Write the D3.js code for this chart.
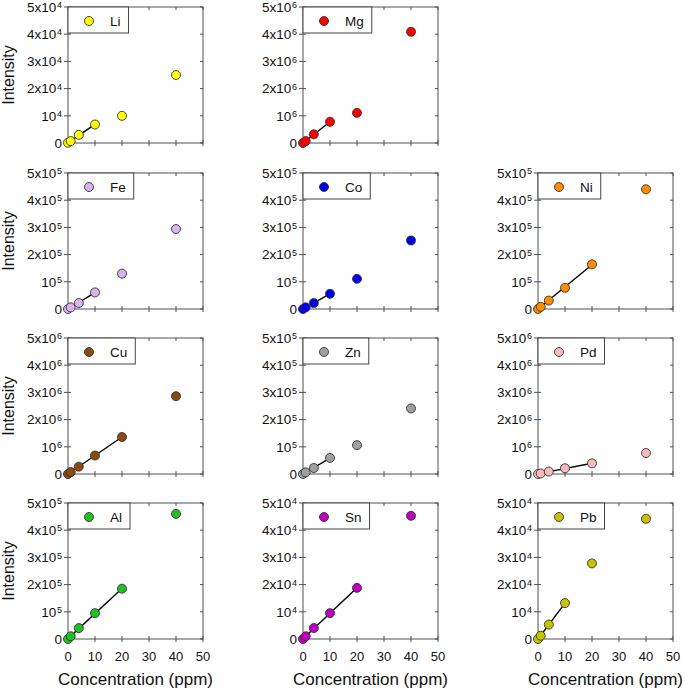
<!DOCTYPE html>
<html>
<head>
<meta charset="utf-8">
<script src="https://cdn.jsdelivr.net/npm/d3@7"></script>
<style>
  html, body { margin: 0; padding: 0; background: #fff; }
  svg { display: block; font-family: "Liberation Sans", Arial, sans-serif; }
</style>
</head>
<body>
<svg id="chart" width="685" height="690"></svg>
<script>
// ---------------- data ----------------
const elements = ["Li", "Mg", "Fe", "Co", "Ni", "Cu", "Zn", "Pd", "Al", "Sn", "Pb"];
const concentrations = [0, 1, 4, 10, 20, 40];
const xTicks = [0, 10, 20, 30, 40, 50];

const liValues = [100, 700, 3000, 6800, 10000, 25000];
const mgValues = [0, 70000, 320000, 780000, 1110000, 4090000];
const feValues = [0, 6000, 22000, 61000, 130000, 294000];
const coValues = [0, 6000, 22000, 56000, 111000, 252000];
const niValues = [0, 8000, 31000, 78000, 164000, 440000];
const cuValues = [0, 70000, 270000, 680000, 1360000, 2860000];
const znValues = [0, 6000, 22000, 59000, 106000, 241000];
const pdValues = [0, 20000, 90000, 210000, 390000, 770000];
const alValues = [0, 10000, 40000, 95000, 185000, 460000];
const snValues = [0, 1000, 4000, 9500, 18800, 45300];
const pbValues = [0, 1200, 5300, 13200, 27800, 44200];

const seriesValues = [liValues, mgValues, feValues, coValues, niValues, cuValues,
                      znValues, pdValues, alValues, snValues, pbValues];
// axis maximum (intensity) per element and x-extent of the linear fit
const yMaxima = [5e4, 5e6, 5e5, 5e5, 5e5, 5e6, 5e5, 5e6, 5e5, 5e4, 5e4];
const fitLimits = [10, 10, 10, 10, 20, 20, 10, 20, 20, 20, 10];
const colors = ["#ffff00", "#ff0000", "#d9b3ee", "#0000ee", "#ff8c00", "#8b4a10",
                "#a0a0a0", "#f6bcbc", "#22c022", "#c000c0", "#c8c200"];

// ---------------- layout ----------------
const slots = [[0,0],[0,1],[1,0],[1,1],[1,2],[2,0],[2,1],[2,2],[3,0],[3,1],[3,2]];
const colLeft = [68, 303, 538];
const rowTop = [7, 173, 338, 503];
const pw = 135, ph = 136;

const svg = d3.select("#chart");
const frameColor = "#505050";

function supLabel(sel, v) {
  sel.text(null);
  if (v === 0) { sel.append("tspan").text("0"); return; }
  const e = Math.floor(Math.log10(v) + 1e-9);
  const m = Math.round(v / Math.pow(10, e));
  sel.append("tspan").text(m === 1 ? "10" : m + "x10");
  sel.append("tspan").attr("dy", -3.6).attr("dx", 0.8).attr("font-size", 9).text(e);
}

elements.forEach((name, i) => {
  const [r, c] = slots[i];
  const x0 = colLeft[c], y0 = rowTop[r];
  const g = svg.append("g").attr("transform", `translate(${x0},${y0})`);

  const x = d3.scaleLinear().domain([0, 50]).range([0, pw]);
  const y = d3.scaleLinear().domain([0, yMaxima[i]]).range([ph, 0]);
  const yTicks = d3.range(0, 6).map(k => k * yMaxima[i] / 5);

  // frame
  g.append("rect").attr("x", 0).attr("y", 0).attr("width", pw).attr("height", ph)
    .attr("fill", "none").attr("stroke", frameColor).attr("stroke-width", 1);

  // left axis ticks (crossing)
  g.selectAll(".yl").data(yTicks).enter().append("line")
    .attr("x1", -4).attr("x2", 3)
    .attr("y1", d => y(d)).attr("y2", d => y(d))
    .attr("stroke", frameColor);
  // right ticks (inside)
  g.selectAll(".yr").data(yTicks).enter().append("line")
    .attr("x1", pw - 3).attr("x2", pw)
    .attr("y1", d => y(d)).attr("y2", d => y(d))
    .attr("stroke", frameColor);
  // bottom ticks
  g.selectAll(".xb").data(xTicks).enter().append("line")
    .attr("x1", d => x(d)).attr("x2", d => x(d))
    .attr("y1", ph - 3).attr("y2", ph + 3)
    .attr("stroke", frameColor);
  // top ticks
  g.selectAll(".xt").data(xTicks).enter().append("line")
    .attr("x1", d => x(d)).attr("x2", d => x(d))
    .attr("y1", 0).attr("y2", 3)
    .attr("stroke", frameColor);

  // y tick labels
  g.selectAll(".ylab").data(yTicks).enter().append("text")
    .attr("x", -6).attr("y", d => y(d) + 4.8)
    .attr("text-anchor", "end").attr("font-size", 13.5).attr("fill", "#111")
    .each(function(d) { supLabel(d3.select(this), d); });

  // x tick labels only on bottom row
  if (r === 3) {
    g.selectAll(".xlab").data(xTicks).enter().append("text")
      .attr("x", d => x(d)).attr("y", ph + 22)
      .attr("text-anchor", "middle").attr("font-size", 13).attr("fill", "#111")
      .text(d => d);
    g.append("text").attr("x", pw / 2).attr("y", ph + 46)
      .attr("text-anchor", "middle").attr("font-size", 17).attr("fill", "#111")
      .text("Concentration (ppm)");
  }
  if (c === 0) {
    g.append("text")
      .attr("transform", `translate(${14 - x0},${ph / 2}) rotate(-90)`)
      .attr("text-anchor", "middle").attr("font-size", 16).attr("fill", "#111")
      .text("Intensity");
  }

  // linear fit line (least squares over fit range)
  const vals = seriesValues[i];
  const pts = concentrations.map((cc, k) => [cc, vals[k]]).filter(p => p[0] <= fitLimits[i]);
  const mX = d3.mean(pts, p => p[0]);
  const mY = d3.mean(pts, p => p[1]);
  const sxy = d3.sum(pts, p => (p[0] - mX) * (p[1] - mY));
  const sxx = d3.sum(pts, p => (p[0] - mX) ** 2);
  const slope = sxy / sxx, icpt = mY - slope * mX;
  const lineGen = d3.line().x(d => x(d)).y(d => y(Math.max(0, slope * d + icpt)));
  g.append("path").datum([0, fitLimits[i]]).attr("d", lineGen)
    .attr("stroke", "#000").attr("stroke-width", 1.4).attr("fill", "none");

  // points
  g.selectAll(".pt").data(concentrations).enter().append("circle")
    .attr("cx", d => x(d)).attr("cy", (d, k) => y(vals[k]))
    .attr("r", 4.5).attr("fill", colors[i]).attr("stroke", "#333").attr("stroke-width", 0.9);

  // legend
  const lg = g.append("g");
  const box = lg.append("rect").attr("x", 0).attr("y", 0).attr("height", 26)
    .attr("fill", "#fff").attr("stroke", "#444").attr("stroke-width", 1);
  lg.append("circle").attr("cx", 21).attr("cy", 14).attr("r", 4.5)
    .attr("fill", colors[i]).attr("stroke", "#333").attr("stroke-width", 0.9);
  const t = lg.append("text").attr("x", 42).attr("y", 18.5)
    .attr("font-size", 13.5).attr("fill", "#111").text(name);
  const tw = t.node().getComputedTextLength();
  box.attr("width", 42 + tw + 8);
});
</script>
</body>
</html>
